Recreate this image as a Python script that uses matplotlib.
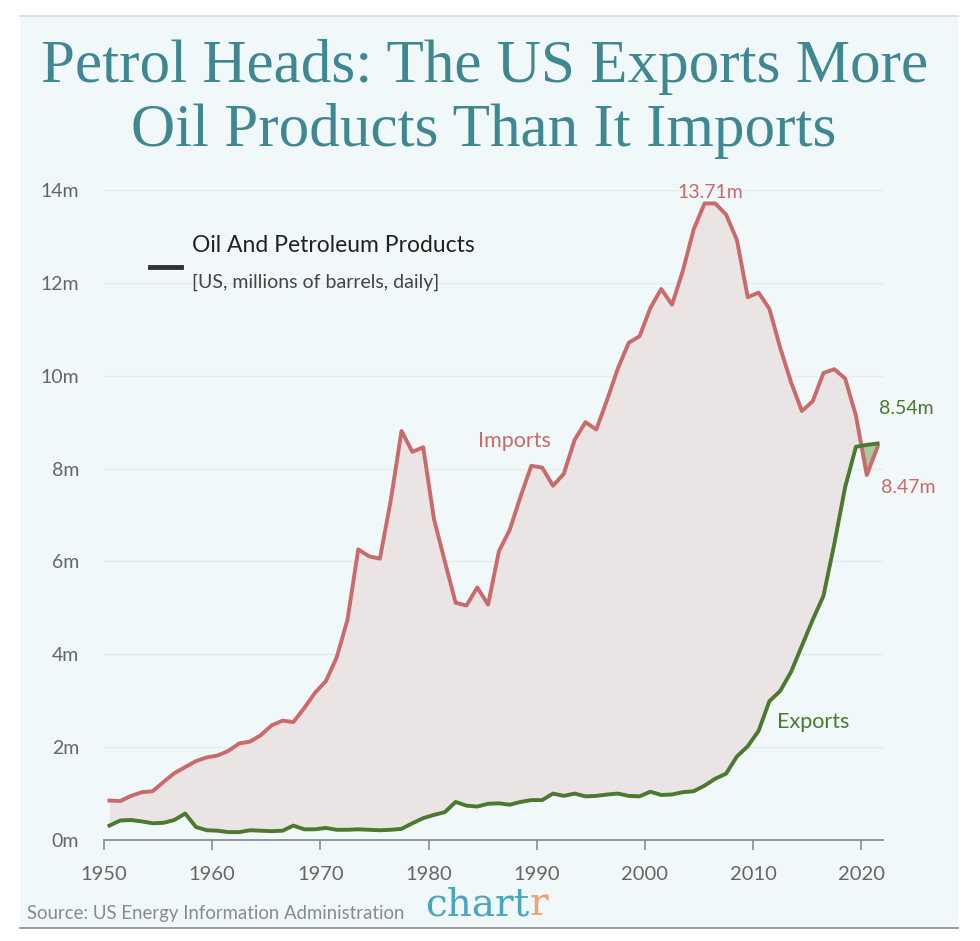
import matplotlib.pyplot as plt
import numpy as np
from matplotlib.patches import Rectangle
from matplotlib.lines import Line2D

# US oil and petroleum products, millions of barrels per day
years = list(range(1950, 2022))
imports = [0.85, 0.84, 0.95, 1.03, 1.05, 1.25, 1.44, 1.57, 1.70, 1.78,
           1.82, 1.92, 2.08, 2.12, 2.26, 2.47, 2.57, 2.54, 2.84, 3.17,
           3.42, 3.93, 4.74, 6.26, 6.11, 6.06, 7.31, 8.81, 8.36, 8.46,
           6.91, 6.00, 5.11, 5.05, 5.44, 5.07, 6.22, 6.68, 7.40, 8.06,
           8.02, 7.63, 7.89, 8.62, 9.00, 8.84, 9.48, 10.16, 10.71, 10.85,
           11.46, 11.87, 11.53, 12.26, 13.15, 13.71, 13.71, 13.47, 12.92, 11.69,
           11.79, 11.44, 10.60, 9.86, 9.24, 9.45, 10.06, 10.14, 9.94, 9.14,
           7.86, 8.47]
exports = [0.31, 0.42, 0.43, 0.40, 0.36, 0.37, 0.43, 0.57, 0.28, 0.21,
           0.20, 0.17, 0.17, 0.21, 0.20, 0.19, 0.20, 0.31, 0.23, 0.23,
           0.26, 0.22, 0.22, 0.23, 0.22, 0.21, 0.22, 0.24, 0.36, 0.47,
           0.54, 0.60, 0.82, 0.74, 0.72, 0.78, 0.79, 0.76, 0.82, 0.86,
           0.86, 1.00, 0.95, 1.00, 0.94, 0.95, 0.98, 1.00, 0.95, 0.94,
           1.04, 0.97, 0.98, 1.03, 1.05, 1.17, 1.32, 1.43, 1.80, 2.02,
           2.35, 2.99, 3.21, 3.62, 4.18, 4.74, 5.26, 6.38, 7.60, 8.47,
           8.51, 8.54]
y_ticks = [0, 2, 4, 6, 8, 10, 12, 14]
x_ticks = [1950, 1960, 1970, 1980, 1990, 2000, 2010, 2020]

imp_color = '#c96a6b'
exp_color = '#4b7a2e'
teal = '#3f8791'
bg = '#f1f8fa'

# annual values drawn at mid-year
x = np.array(years) + 0.5
imp = np.array(imports)
exp_ = np.array(exports)

fig = plt.figure(figsize=(9.8, 9.41), dpi=100)
fig.patch.set_facecolor('white')
fig.patches.append(Rectangle((20/980, 1-928/941), 938/980, 912/941,
                             transform=fig.transFigure, facecolor=bg,
                             edgecolor='none', zorder=-5))
fig.add_artist(Line2D([20/980, 958/980], [1-16/941, 1-16/941],
                      transform=fig.transFigure, color='#d6dadc', lw=1.2))
fig.add_artist(Line2D([20/980, 958/980], [1-928/941, 1-928/941],
                      transform=fig.transFigure, color='#8a8a8a', lw=1.2))

ax = fig.add_axes([104/980, 1-840/941, 779/980, 650/941])
ax.set_facecolor('none')

ax.fill_between(x, imp, exp_, where=imp >= exp_, interpolate=True,
                color='#ebe4e4', lw=0, zorder=1)
ax.fill_between(x, imp, exp_, where=exp_ > imp, interpolate=True,
                color='#a9c7a4', lw=0, zorder=1)
ax.plot(x, imp, color=imp_color, lw=2.8, zorder=3)
ax.plot(x, exp_, color=exp_color, lw=2.8, zorder=4)

ax.set_xlim(1950, 2022)
ax.set_ylim(0, 14)
ax.set_yticks(y_ticks)
ax.set_yticklabels([f'{t}m' for t in y_ticks])
ax.set_xticks(x_ticks)
ax.set_xticklabels([str(t) for t in x_ticks])
for t in y_ticks[1:]:
    ax.axhline(t, color='#e6ecee', lw=1, zorder=0)

for s in ['top', 'right', 'left']:
    ax.spines[s].set_visible(False)
ax.spines['bottom'].set_color('#8c8c8c')
ax.spines['bottom'].set_linewidth(1.3)
ax.tick_params(axis='y', length=0, pad=18, labelsize=14, labelcolor='#666666')
ax.tick_params(axis='x', length=7, width=1.2, color='#8c8c8c', pad=12,
               labelsize=14.5, labelcolor='#666666')
for lab in ax.get_xticklabels() + ax.get_yticklabels():
    lab.set_family('Lato')

# title
fig.text(0.494, 1-67/941, 'Petrol Heads: The US Exports More', ha='center',
         va='center', fontsize=44, color=teal, family='Liberation Serif')
fig.text(0.494, 1-131/941, 'Oil Products Than It Imports', ha='center',
         va='center', fontsize=44, color=teal, family='Liberation Serif')

# legend
fig.add_artist(Line2D([150/980, 181/980], [1-267/941, 1-267/941],
                      transform=fig.transFigure, color='#333333', lw=3.5))
fig.text(192/980, 1-245/941, 'Oil And Petroleum Products', ha='left',
         va='center', fontsize=16.5, color='#222222', family='Lato')
fig.text(192/980, 1-282/941, '[US, millions of barrels, daily]', ha='left',
         va='center', fontsize=14, color='#444444', family='Lato')

# annotations
ax.text(x[years.index(2005)] + 0.5, imp.max() + 0.05, f'{imp.max():.2f}m',
        ha='center', va='bottom', fontsize=14, color=imp_color,
        family='Lato', clip_on=False)
ax.text(1987.9, 8.6, 'Imports', ha='center', va='center', fontsize=15.5,
        color=imp_color, family='Lato')
ax.text(2021.6, 9.3, f'{exp_[-1]:.2f}m', ha='left', va='center',
        fontsize=14, color=exp_color, family='Lato', clip_on=False)
ax.text(2021.8, 7.6, f'{imp[-1]:.2f}m', ha='left', va='center',
        fontsize=14, color=imp_color, family='Lato', clip_on=False)
ax.text(2012.2, 2.55, 'Exports', ha='left', va='center', fontsize=15.5,
        color=exp_color, family='Lato')

# footer
fig.text(27/980, 1-913/941, 'Source: US Energy Information Administration',
         ha='left', va='center', fontsize=13.4, color='#8a8a8a', family='Lato')
logo = fig.text(425/980, 1-915/941, 'chart', ha='left', va='baseline',
                fontsize=28, color='#4aa6c0', family='DejaVu Serif')
ax.annotate('r', xy=(1, 0), xycoords=logo, ha='left', va='bottom',
            fontsize=28, color='#f0a272', family='DejaVu Serif',
            annotation_clip=False)

fig.savefig('out.png', dpi=100)
